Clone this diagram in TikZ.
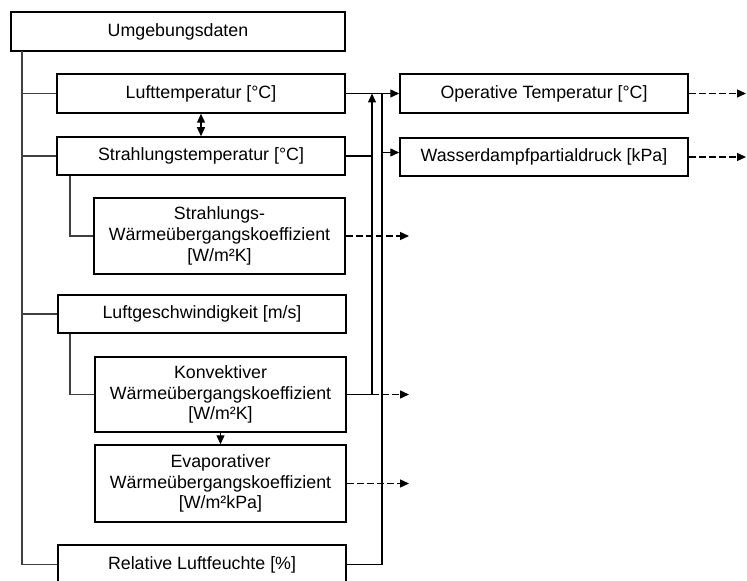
\documentclass[tikz,border=0pt]{standalone}
\usepackage{fontspec}
\setmainfont{Liberation Sans}
\usetikzlibrary{arrows.meta}

% box by its corners: name, x1, y1, x2, y2, text
\newcommand\boxat[6]{%
  \node[box, minimum width={(#4-#2)*0.5pt}, minimum height={(#5-#3)*0.5pt}]
    (#1) at ({(#2+#4)/2},{(#3+#5)/2}) {#6};}

\begin{document}
\begin{tikzpicture}[x=0.5pt, y=-0.5pt,
  box/.style={draw=black, line width=0.75pt, fill=white, align=center,
    inner sep=0pt, font=\fontsize{8.9pt}{10.3pt}\selectfont},
  tree/.style={draw=black!75, line width=0.55pt},
  link/.style={draw=black, line width=0.65pt},
  tip/.style={-{Triangle[length=4.5pt,width=4pt]}},
  bothtip/.style={{Triangle[length=4.5pt,width=4pt]}-{Triangle[length=4.5pt,width=4pt]}},
  dashline/.style={dash pattern=on 3.4pt off 1.6pt},
]
\useasboundingbox (0,0) rectangle (747,581);

% input quantities and derived coefficients
\boxat{ud}{11}{12}{345}{51}{Umgebungsdaten}
\boxat{lt}{57}{74}{345}{113}{Lufttemperatur [°C]}
\boxat{st}{57}{137}{345}{175}{Strahlungstemperatur [°C]}
\boxat{sw}{94}{198}{345}{274}{Strahlungs-\\Wärmeübergangskoeffizient\\{}[W/m²K]}
\boxat{lg}{58}{295}{346}{333}{Luftgeschwindigkeit [m/s]}
\boxat{kw}{95}{357}{346}{432}{Konvektiver\\Wärmeübergangskoeffizient\\{}[W/m²K]}
\boxat{ew}{95}{445}{346}{522}{Evaporativer\\Wärmeübergangskoeffizient\\{}[W/m²kPa]}
\boxat{rl}{58}{545}{346}{584}{Relative Luftfeuchte [\%]}

% results
\boxat{ot}{400}{74}{688}{113}{Operative Temperatur [°C]}
\boxat{wd}{400}{138}{688}{176}{Wasserdampfpartialdruck [kPa]}

% tree of the input data
\coordinate (tk) at (22,51);
\coordinate (sb) at (70,0);
\draw[tree] (tk) |- (rl.west);
\draw[tree] (lt.west) -- (lt.west -| tk);
\draw[tree] (st.west) -- (st.west -| tk);
\draw[tree] (lg.west) -- (lg.west -| tk);
\draw[tree] (st.south -| sb) |- (sw.west);
\draw[tree] (lg.south -| sb) |- (kw.west);

% dependencies
\draw[link,bothtip] (lt.south) -- (st.north);
\draw[link,tip] (kw.south) -- (ew.north);

\coordinate (v1) at (372,0);
\coordinate (v2) at (382,0);
\coordinate (wdin) at (382,152.5);
\draw[link,tip] (lt.east) -- (ot.west);
\draw[link] (st.east) -- (st.east -| v1);
\draw[link,tip] (kw.east) -- (kw.east -| v1) -- (lt.east -| v1);
\draw[link] (rl.east) -| (lt.east -| v2);
\draw[link,tip] (wdin) -- (wdin -| wd.west);

% outgoing values
\coordinate (o1) at (409,0);
\coordinate (o2) at (746,0);
\draw[link,dashline,tip] (sw.east) -- (sw.east -| o1);
\draw[link,dashline,tip] (kw.east -| v1) -- (kw.east -| o1);
\draw[link,dashline,tip] (ew.east) -- (ew.east -| o1);
\draw[link,dashline,tip] (ot.east) -- (ot.east -| o2);
\draw[link,dashline,tip] (wd.east) -- (wd.east -| o2);
\end{tikzpicture}
\end{document}
